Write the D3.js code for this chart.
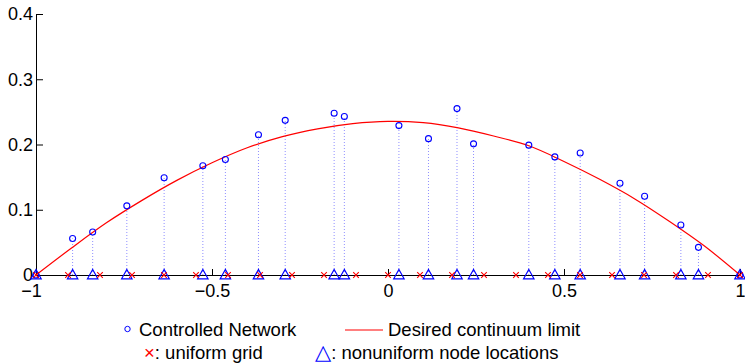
<!DOCTYPE html>
<html>
<head>
<meta charset="utf-8">
<script src="https://cdn.jsdelivr.net/npm/d3@7"></script>
<style>
  html, body { margin: 0; padding: 0; background: #fff; }
  svg { display: block; font-family: "Liberation Sans", Arial, sans-serif; }
</style>
</head>
<body>
<svg id="chart" width="745" height="364"></svg>
<script>
// nonuniform node locations and the controlled network values at them
const nodeX = [-1, -0.896, -0.839, -0.742, -0.636, -0.526, -0.462, -0.368, -0.292, -0.153, -0.124,
  0.031, 0.115, 0.196, 0.243, 0.400, 0.474, 0.546, 0.659, 0.729, 0.832, 0.882, 1];
const networkY = [0, 0.056, 0.066, 0.106, 0.149, 0.1675, 0.177, 0.215, 0.237, 0.248, 0.243,
  0.229, 0.209, 0.255, 0.201, 0.199, 0.181, 0.187, 0.1405, 0.1206, 0.0766, 0.0424, 0];

// uniform grid
const gridX = [-1, -0.9091, -0.8182, -0.7273, -0.6364, -0.5455, -0.4545, -0.3636, -0.2727, -0.1818,
  -0.0909, 0, 0.0909, 0.1818, 0.2727, 0.3636, 0.4545, 0.5455, 0.6364, 0.7273, 0.8182, 0.9091, 1];

// desired continuum limit
const limitX = [-1, -0.9, -0.8, -0.7, -0.6, -0.5, -0.4, -0.3, -0.2, -0.1, 0,
  0.1, 0.2, 0.3, 0.4, 0.5, 0.6, 0.7, 0.8, 0.9, 1];
const limitY = [0, 0.041, 0.080, 0.114, 0.145, 0.172, 0.195, 0.212, 0.224, 0.232, 0.2355,
  0.2335, 0.2255, 0.213, 0.198, 0.174, 0.147, 0.117, 0.082, 0.044, 0];

const xTicks = [-1, -0.5, 0, 0.5, 1];
const yTicks = [0, 0.1, 0.2, 0.3, 0.4];

const svg = d3.select('#chart');
const x = d3.scaleLinear().domain([-1, 1]).range([36, 740]);
const y = d3.scaleLinear().domain([0, 0.4]).range([275, 14]);

const blue = '#0000ff', red = '#ff0000';

// dotted stems
svg.append('g').selectAll('line')
  .data(nodeX)
  .enter().append('line')
  .attr('x1', d => x(d)).attr('x2', d => x(d))
  .attr('y1', y(0)).attr('y2', (d, i) => y(networkY[i]))
  .attr('stroke', '#8f8fff').attr('stroke-width', 1)
  .attr('stroke-dasharray', '1,2');

// axes
const xAxis = svg.append('g')
  .attr('transform', `translate(0,${y(0)})`)
  .call(d3.axisBottom(x).tickValues(xTicks).tickSizeInner(-6).tickSizeOuter(0)
    .tickPadding(9).tickFormat(d3.format('')));
const yAxis = svg.append('g')
  .attr('transform', `translate(${x(-1)},0)`)
  .call(d3.axisLeft(y).tickValues(yTicks).tickSizeInner(-7).tickSizeOuter(0)
    .tickPadding(3).tickFormat(d3.format('')));
[xAxis, yAxis].forEach(a => {
  a.selectAll('text').attr('font-size', 18).attr('fill', '#000')
    .attr('font-family', '"Liberation Sans", Arial, sans-serif');
  a.selectAll('line, path').attr('stroke', '#000');
});
// the -1 label sits a little left of its tick in the original
xAxis.selectAll('text').attr('dx', d => d === -1 ? -5 : 0);

// continuum limit
const line = d3.line().x(d => x(d[0])).y(d => y(d[1])).curve(d3.curveCatmullRom);
svg.append('path')
  .datum(limitX.map((d, i) => [d, limitY[i]]))
  .attr('d', line)
  .attr('fill', 'none').attr('stroke', red).attr('stroke-width', 1.2);

// controlled network
svg.append('g').selectAll('circle')
  .data(nodeX)
  .enter().append('circle')
  .attr('cx', d => x(d)).attr('cy', (d, i) => y(networkY[i]))
  .attr('r', 3)
  .attr('fill', 'none').attr('stroke', blue).attr('stroke-width', 1.1);

// node locations
svg.append('g').selectAll('path')
  .data(nodeX)
  .enter().append('path')
  .attr('d', d => {
    const cx = x(d), cy = y(0);
    return `M${cx - 5.2},${cy + 3.8}L${cx + 5.2},${cy + 3.8}L${cx},${cy - 5.5}Z`;
  })
  .attr('fill', 'none').attr('stroke', blue).attr('stroke-width', 1.2);

// uniform grid
svg.append('g').selectAll('path')
  .data(gridX)
  .enter().append('path')
  .attr('d', d => {
    const cx = x(d), cy = y(0), s = 2.8;
    return `M${cx - s},${cy - s}L${cx + s},${cy + s}M${cx - s},${cy + s}L${cx + s},${cy - s}`;
  })
  .attr('stroke', red).attr('stroke-width', 1.1);

// legend
const lg = svg.append('g').attr('font-size', 18.5).attr('fill', '#000');
lg.append('circle').attr('cx', 127.5).attr('cy', 329).attr('r', 2.7)
  .attr('fill', 'none').attr('stroke', blue).attr('stroke-width', 1);
lg.append('text').attr('x', 139).attr('y', 336).text('Controlled Network');
lg.append('line').attr('x1', 345).attr('x2', 383).attr('y1', 330).attr('y2', 330)
  .attr('stroke', red).attr('stroke-width', 1.2);
lg.append('text').attr('x', 388).attr('y', 336).text('Desired continuum limit');

const t1 = lg.append('text').attr('x', 144).attr('y', 359);
t1.append('tspan').attr('fill', red).text('×');
t1.append('tspan').text(': uniform grid');
const t2 = lg.append('text').attr('x', 315).attr('y', 359);
t2.append('tspan').attr('fill', blue).attr('font-family', '"DejaVu Sans", sans-serif')
  .attr('font-size', 21).text('△');
t2.append('tspan').text(': nonuniform node locations');
</script>
</body>
</html>
